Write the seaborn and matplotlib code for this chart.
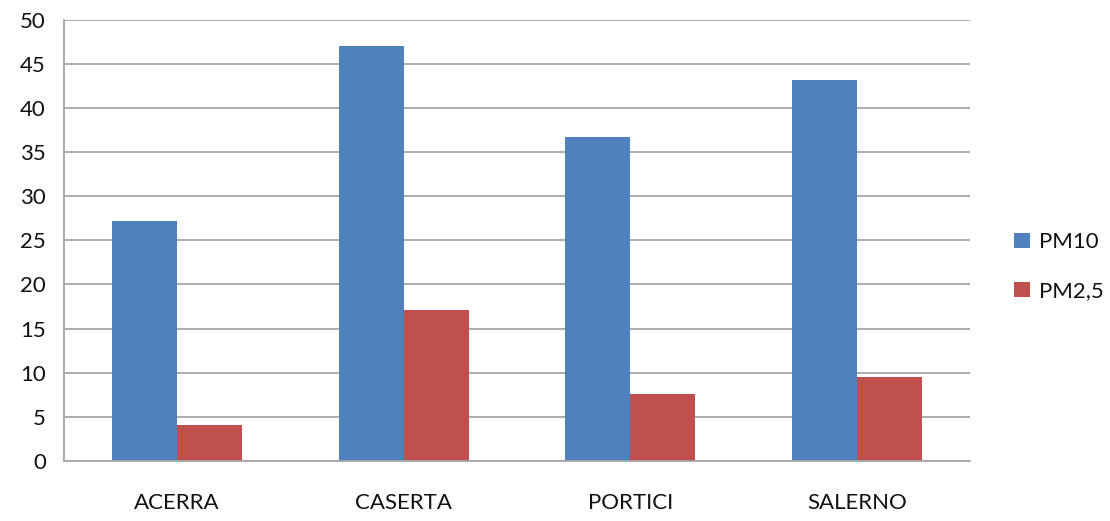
import matplotlib
matplotlib.use("Agg")
import matplotlib.pyplot as plt
import seaborn as sns
import pandas as pd

cities = ["ACERRA", "CASERTA", "PORTICI", "SALERNO"]
pm10 = [27.2, 47.0, 36.7, 43.2]
pm25 = [4.1, 17.1, 7.6, 9.5]
series = ["PM10", "PM2,5"]
yticks = [0, 5, 10, 15, 20, 25, 30, 35, 40, 45, 50]

df = pd.DataFrame({
    "city": cities * 2,
    "value": pm10 + pm25,
    "series": [series[0]] * len(cities) + [series[1]] * len(cities),
})

sns.set_theme(style="white")
plt.rcParams["font.family"] = ["Lato", "DejaVu Sans"]

fig = plt.figure(figsize=(11.1, 5.21), dpi=100)
ax = fig.add_axes([64 / 1110, 60 / 521, 906 / 1110, 441.5 / 521])

sns.barplot(data=df, x="city", y="value", hue="series", order=cities,
            hue_order=series, palette=["#4F81BD", "#C0504D"], width=0.574,
            saturation=1, ax=ax, edgecolor="none", linewidth=0)

ax.set_ylim(0, 50)
ax.set_xlim(-0.5, 3.5)
ax.set_yticks(yticks)
ax.set_yticklabels([str(t) for t in yticks])
ax.yaxis.grid(True, color="#A6A6A6", linewidth=1.3)
ax.set_axisbelow(True)
ax.set_xlabel("")
ax.set_ylabel("")
for s in ["top", "right"]:
    ax.spines[s].set_visible(False)
for s in ["left", "bottom"]:
    ax.spines[s].set_color("#A6A6A6")
    ax.spines[s].set_linewidth(1.3)
ax.tick_params(axis="both", length=0, labelsize=16, colors="#111111")
ax.tick_params(axis="y", pad=13)
ax.tick_params(axis="x", pad=23)

leg = ax.legend(loc="center left", bbox_to_anchor=(1.027, 0.44), frameon=False,
                fontsize=16, handlelength=0.7, handleheight=0.7,
                handletextpad=0.4, labelspacing=1.3)
for t in leg.get_texts():
    t.set_color("#111111")

fig.savefig("out.png", dpi=100, facecolor="white")
